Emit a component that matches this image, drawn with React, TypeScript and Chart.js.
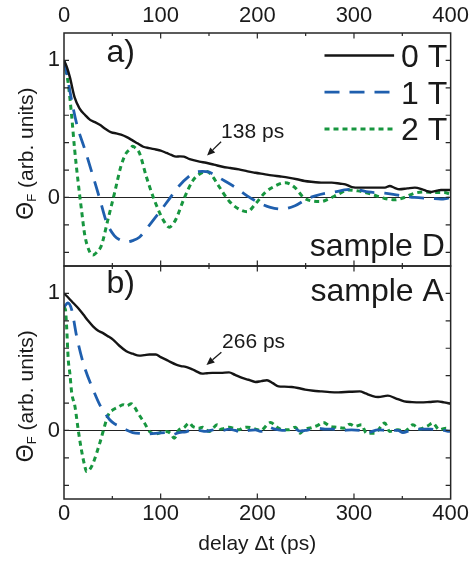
import React, { useEffect, useRef } from 'react';
import { Chart, registerables } from 'chart.js';

Chart.register(...registerables);

type P = [number, number];

const FONT = "'Liberation Sans', Arial, Helvetica, sans-serif";

// ---------- data ----------
const fieldLabels = ['0 T', '1 T', '2 T'];
const panelLabels = ['a)', 'b)'];
const sampleLabels = ['sample D', 'sample A'];
const lifetimeLabels = ['138 ps', '266 ps'];
const xTickPositions = [0, 50, 100, 150, 200, 250, 300, 350, 400];
const xTickValues = [0, 100, 200, 300, 400];
const yTickPositions = [-0.4, -0.2, 0, 0.2, 0.4, 0.6, 0.8, 1.0];
const yTickValues = [0, 1];

// sample D, panel a)
const sampleD_0T: P[] = [[0,1.0],[3,0.95],[6,0.88],[11,0.73],[16,0.65],[22,0.6],[27,0.566],[32,0.55],[37,0.53],[43,0.5],[49,0.475],[54,0.468],[59,0.458],[65,0.44],[70,0.42],[76,0.395],[82,0.37],[88,0.36],[95,0.35],[100,0.342],[106,0.325],[111,0.31],[116,0.298],[120,0.3],[124,0.298],[130,0.28],[140,0.262],[147,0.253],[155,0.24],[164,0.224],[172,0.215],[181,0.205],[190,0.19],[198,0.18],[207,0.17],[215,0.161],[224,0.153],[232,0.145],[241,0.133],[249,0.12],[258,0.113],[266,0.108],[277,0.108],[286,0.1],[291,0.096],[298,0.076],[306,0.072],[315,0.072],[323,0.072],[332,0.072],[337,0.084],[342,0.07],[347,0.06],[355,0.066],[363,0.072],[372,0.055],[380,0.04],[386,0.05],[390,0.055],[395,0.055],[400,0.055]];
const sampleD_1T: P[] = [[0,1.0],[3,0.9],[6,0.78],[13,0.54],[21.6,0.35],[30,0.156],[37,-0.01],[44,-0.18],[52,-0.278],[58,-0.31],[64.5,-0.325],[71,-0.315],[78,-0.29],[88,-0.205],[98.7,-0.108],[109,-0.01],[119,0.084],[129.6,0.156],[136,0.185],[143,0.19],[150,0.185],[157,0.16],[164,0.13],[177.6,0.072],[189.5,0.012],[201,-0.036],[213.5,-0.072],[225.5,-0.085],[239,-0.06],[251,-0.012],[260,0.012],[270,0.03],[280,0.04],[290,0.055],[297.5,0.06],[305,0.055],[314.6,0.04],[331.8,0.031],[345.5,0.017],[362.7,0.0],[380,-0.007],[390,-0.012],[395,-0.008],[400,0.0]];
const sampleD_2T: P[] = [[0,1.0],[2,0.93],[4.4,0.83],[8,0.59],[11,0.35],[14.7,0.108],[18,-0.085],[21.6,-0.278],[26.7,-0.398],[30,-0.42],[34,-0.4],[38.7,-0.35],[45.6,-0.157],[52.4,0.036],[59,0.23],[64,0.32],[67.9,0.35],[71,0.373],[74,0.36],[78,0.325],[85,0.156],[91.8,0.012],[98.7,-0.108],[104,-0.18],[109,-0.217],[112,-0.2],[115.9,-0.157],[124,-0.012],[133,0.12],[140,0.17],[148,0.19],[154,0.15],[160,0.084],[170.7,-0.025],[181,-0.085],[189.5,-0.104],[198,-0.048],[208,0.036],[218.5,0.084],[228.8,0.108],[239,0.072],[247.8,0.0],[256,-0.025],[266,-0.03],[273.5,-0.012],[284,0.024],[294,0.055],[304,0.048],[318,0.024],[331.8,-0.007],[342,-0.017],[352,0.0],[362.7,0.031],[373,0.04],[383,0.036],[393,0.036],[400,0.024]];

// sample A, panel b)
const sampleA_0T: P[] = [[0,1.0],[5,0.965],[9.6,0.93],[15,0.89],[20,0.846],[25,0.8],[30,0.76],[35,0.73],[40.4,0.71],[45,0.69],[50.7,0.663],[57,0.62],[64.5,0.578],[71,0.56],[78,0.546],[83,0.55],[88.4,0.554],[95,0.554],[100,0.535],[105.5,0.517],[110,0.5],[116,0.48],[121,0.47],[126,0.464],[131,0.452],[136,0.435],[143,0.415],[148,0.418],[153.5,0.42],[162,0.42],[170.7,0.424],[177,0.405],[184.4,0.383],[191,0.37],[198,0.354],[204,0.36],[210,0.366],[216,0.345],[222,0.322],[228,0.32],[235.7,0.317],[242,0.31],[249.5,0.298],[258,0.29],[266.6,0.285],[275,0.28],[284,0.278],[295,0.282],[306,0.285],[312,0.27],[318,0.254],[325,0.244],[335,0.254],[343,0.235],[352,0.212],[360,0.207],[369,0.205],[378,0.208],[386.6,0.212],[393,0.205],[400,0.195]];
const sampleA_1T: P[] = [[0,0.9],[4,0.93],[8,0.88],[13,0.69],[20,0.49],[30,0.3],[38.7,0.164],[43,0.12],[47.3,0.078],[52,0.05],[57.6,0.03],[64,0.005],[71,-0.015],[80,-0.022],[88.4,-0.024],[97,-0.02],[105.5,-0.015],[112.4,-0.03],[119,-0.015],[126,-0.01],[129.6,0],[133,0.005],[139.9,0],[146.7,-0.007],[155,0.005],[163.9,0],[170.7,0.01],[177,0.0],[184.4,-0.015],[191,0],[198,0.005],[203.3,-0.007],[211.8,0.024],[217,0.012],[222,0.005],[232.5,0],[239.3,0.01],[244,-0.005],[249.5,0],[255,0.008],[261.5,0.017],[270,0.01],[277,0.01],[287,0.0],[297.5,0.005],[306,0.0],[314.6,-0.015],[324.9,0.005],[335,0.0],[345.4,0],[350.6,-0.015],[358,0.0],[366,0.01],[379.7,0.01],[386,0.004],[393.4,0],[398.5,-0.007],[400,-0.005]];
const sampleA_2T: P[] = [[0,0.9],[1.5,0.88],[2.7,0.76],[4.4,0.517],[6,0.42],[8,0.273],[11.3,0.176],[14.7,0.005],[18,-0.141],[21.6,-0.263],[23.3,-0.3],[26,-0.29],[30,-0.24],[37,-0.092],[44,0.078],[47,0.13],[50.7,0.151],[56,0.17],[61,0.188],[65,0.18],[69.6,0.195],[73,0.17],[76.5,0.127],[83.3,0.054],[88.4,-0.007],[95,-0.024],[100,-0.015],[105.5,-0.007],[110,-0.02],[114,-0.056],[119,0.005],[124,0.02],[129.6,0.055],[133,0.03],[139.9,0.017],[143.3,0.024],[150.2,-0.007],[158.7,0.041],[162.2,0.01],[170.7,0.024],[181,0.005],[184.4,0.017],[189.6,0.024],[198.2,0.01],[203.3,0],[213.6,0.058],[220.4,0.024],[223.9,0.01],[232.4,0.005],[239.3,0.024],[244.4,-0.02],[247.9,0.005],[256,0.02],[262,0.035],[268.3,0.058],[275.2,0.03],[282,0.024],[288.9,0.017],[295.8,0.046],[300.9,0.03],[307.8,0.041],[312.9,-0.02],[321.5,-0.02],[331.8,0.054],[336.9,-0.007],[345.5,0.005],[352.3,-0.007],[360.9,0.041],[367.8,0.01],[376.3,0.034],[381.5,0.054],[388.3,0.005],[395.2,0.017],[400,0.005]];

// ---------- styles / annotation placement (in data units) ----------
const seriesColors = ['#151515', '#1f5fae', '#17963f'];
const seriesWidths = [2.4, 2.8, 3];
const seriesDashes: number[][] = [[], [15, 10], [5, 4]];
const INK = '#1a1a1a';

const annot = {
  panelLabel: [{ x: 44, y: 0.985 }, { x: 44, y: 1.004 }],
  sample: [{ x: 394, y: -0.43 }, { x: 393, y: 0.944 }],
  lifetime: [{ x: 162.5, y: 0.435 }, { x: 163.5, y: 0.605 }],
  arrowTail: [{ x: 162.5, y: 0.407 }, { x: 162.8, y: 0.571 }],
  arrowHead: [{ x: 148, y: 0.306 }, { x: 147.4, y: 0.478 }],
  yTitleCenter: [0.32, 0.25],
  legendLineX: [269.5, 341.5],
  legendTextX: 348.6,
  legendRowY: [1.036, 0.769, 0.5],
};

function near(a: number, b: number) {
  return Math.abs(a - b) < 1e-6;
}

const decorPlugin = {
  id: 'decor',
  beforeDatasetsDraw(chart: any) {
    const ctx = chart.ctx as CanvasRenderingContext2D;
    const { left, right } = chart.chartArea;
    ctx.save();
    ctx.strokeStyle = '#222';
    ctx.lineWidth = 1;
    for (const id of ['yA', 'yB']) {
      const s = chart.scales[id];
      const py = Math.round(s.getPixelForValue(0)) + 0.5;
      ctx.beginPath();
      ctx.moveTo(left, py);
      ctx.lineTo(right, py);
      ctx.stroke();
    }
    ctx.restore();
  },
  afterDraw(chart: any) {
    const ctx = chart.ctx as CanvasRenderingContext2D;
    const { left, right } = chart.chartArea;
    const xs = chart.scales.x;
    const panels = [chart.scales.yA, chart.scales.yB];
    ctx.save();
    // frames
    ctx.strokeStyle = '#262626';
    ctx.lineWidth = 1.5;
    for (const s of panels) ctx.strokeRect(left, s.top, right - left, s.bottom - s.top);
    // x ticks (inward)
    ctx.lineWidth = 1.2;
    for (const t of xs.ticks) {
      const px = xs.getPixelForValue(t.value);
      if (near(t.value, xs.min) || near(t.value, xs.max)) continue;
      const major = xTickValues.some((v) => near(v, t.value));
      const len = major ? 5.5 : 3;
      for (const s of panels) {
        ctx.beginPath();
        ctx.moveTo(px, s.top);
        ctx.lineTo(px, s.top + len);
        ctx.moveTo(px, s.bottom);
        ctx.lineTo(px, s.bottom - len);
        ctx.stroke();
      }
    }
    // y ticks (inward both sides)
    for (const s of panels) {
      for (const t of s.ticks) {
        if (near(t.value, s.min) || near(t.value, s.max)) continue;
        const py = s.getPixelForValue(t.value);
        ctx.beginPath();
        ctx.moveTo(left, py);
        ctx.lineTo(left + 5, py);
        ctx.moveTo(right, py);
        ctx.lineTo(right - 5, py);
        ctx.stroke();
      }
    }
    ctx.fillStyle = INK;
    ctx.textBaseline = 'alphabetic';
    const text = (s: string, x: number, y: number, size: number, align: CanvasTextAlign = 'left') => {
      ctx.font = `${size}px ${FONT}`;
      ctx.textAlign = align;
      ctx.fillText(s, x, y);
    };
    panels.forEach((s, i) => {
      const pl = annot.panelLabel[i];
      text(panelLabels[i], xs.getPixelForValue(pl.x), s.getPixelForValue(pl.y), 32);
      const sl = annot.sample[i];
      text(sampleLabels[i], xs.getPixelForValue(sl.x), s.getPixelForValue(sl.y), 32, 'right');
      const ll = annot.lifetime[i];
      text(lifetimeLabels[i], xs.getPixelForValue(ll.x), s.getPixelForValue(ll.y), 21);
      // arrow
      const tx = xs.getPixelForValue(annot.arrowTail[i].x);
      const ty = s.getPixelForValue(annot.arrowTail[i].y);
      const hx = xs.getPixelForValue(annot.arrowHead[i].x);
      const hy = s.getPixelForValue(annot.arrowHead[i].y);
      const ang = Math.atan2(hy - ty, hx - tx);
      const hl = 8, hw = 3.5;
      const bx = hx - hl * Math.cos(ang), by = hy - hl * Math.sin(ang);
      ctx.strokeStyle = INK;
      ctx.lineWidth = 1.3;
      ctx.beginPath();
      ctx.moveTo(tx, ty);
      ctx.lineTo(bx, by);
      ctx.stroke();
      ctx.beginPath();
      ctx.moveTo(hx, hy);
      ctx.lineTo(bx + hw * Math.sin(ang), by - hw * Math.cos(ang));
      ctx.lineTo(bx - hw * Math.sin(ang), by + hw * Math.cos(ang));
      ctx.closePath();
      ctx.fill();
      // y title
      const cy = s.getPixelForValue(annot.yTitleCenter[i]);
      ctx.save();
      ctx.translate(33, cy);
      ctx.rotate(-Math.PI / 2);
      ctx.textAlign = 'left';
      ctx.font = `23px ${FONT}`;
      const wT = ctx.measureText('Θ').width;
      ctx.font = `13px ${FONT}`;
      const wF = ctx.measureText('F').width;
      ctx.font = `21px ${FONT}`;
      const rest = ' (arb. units)';
      const wR = ctx.measureText(rest).width;
      const x0 = -(wT + wF + wR) / 2;
      ctx.font = `23px ${FONT}`;
      ctx.fillText('Θ', x0, 0);
      ctx.font = `13px ${FONT}`;
      ctx.fillText('F', x0 + wT, 3);
      ctx.font = `21px ${FONT}`;
      ctx.fillText(rest, x0 + wT + wF, 0);
      ctx.restore();
    });
    // legend (panel a)
    const sA = chart.scales.yA;
    chart.data.datasets.slice(0, 3).forEach((ds: any, i: number) => {
      const py = sA.getPixelForValue(annot.legendRowY[i]);
      ctx.save();
      ctx.strokeStyle = ds.borderColor;
      ctx.lineWidth = ds.borderWidth;
      ctx.setLineDash(ds.borderDash || []);
      ctx.beginPath();
      ctx.moveTo(xs.getPixelForValue(annot.legendLineX[0]), py);
      ctx.lineTo(xs.getPixelForValue(annot.legendLineX[1]), py);
      ctx.stroke();
      ctx.restore();
      text(ds.label, xs.getPixelForValue(annot.legendTextX), py + 11.5, 32);
    });
    ctx.restore();
  },
};

export default function App() {
  const ref = useRef<HTMLCanvasElement>(null);
  useEffect(() => {
    document.body.style.margin = '0';
    const canvas = ref.current!;
    const mk = (pts: P[], i: number, axis: string) => ({
      label: fieldLabels[i],
      data: pts.map(([x, y]) => ({ x, y })),
      xAxisID: 'x',
      yAxisID: axis,
      borderColor: seriesColors[i],
      borderWidth: seriesWidths[i],
      borderDash: seriesDashes[i],
      borderCapStyle: 'butt',
      borderJoinStyle: 'round',
      pointRadius: 0,
      fill: false,
      cubicInterpolationMode: 'monotone',
    });
    const datasets = [
      mk(sampleD_0T, 0, 'yA'),
      mk(sampleD_1T, 1, 'yA'),
      mk(sampleD_2T, 2, 'yA'),
      mk(sampleA_0T, 0, 'yB'),
      mk(sampleA_1T, 1, 'yB'),
      mk(sampleA_2T, 2, 'yB'),
    ];
    const xLabel = (v: any) => (xTickValues.some((t) => near(t, Number(v))) ? String(v) : '');
    const yLabel = (v: any) => {
      const n = Number(v);
      const hit = yTickValues.find((t) => near(t, n));
      return hit === undefined ? '' : String(hit);
    };
    const tickFont = { family: FONT, size: 22 };
    const setTicks = (vals: number[]) => (s: any) => {
      s.ticks = vals.map((v) => ({ value: v }));
    };
    const yScale = (weight: number) => ({
      type: 'linear',
      position: 'left',
      stack: 'panels',
      stackWeight: 1,
      weight,
      min: -0.5,
      max: 1.2,
      grid: { display: false, drawTicks: false },
      border: { display: false },
      ticks: { padding: 4, color: INK, font: tickFont, callback: yLabel, autoSkip: false },
      afterBuildTicks: setTicks(yTickPositions),
      afterFit: (s: any) => { s.width = 64; },
    });
    const chart = new Chart(canvas, {
      type: 'line',
      data: { datasets } as any,
      options: {
        responsive: false,
        animation: false,
        layout: { padding: { left: 0, right: 20, top: 0, bottom: 0 } },
        plugins: { legend: { display: false }, tooltip: { enabled: false } },
        scales: {
          x: {
            type: 'linear',
            position: 'bottom',
            min: 0,
            max: 400,
            grid: { display: false, drawTicks: false },
            border: { display: false },
            ticks: { padding: 2, color: INK, font: tickFont, callback: xLabel, autoSkip: false, maxRotation: 0 },
            afterBuildTicks: setTicks(xTickPositions),
            title: { display: true, text: 'delay Δt (ps)', color: INK, font: { family: FONT, size: 21 }, padding: { top: 0, bottom: 8 } },
            afterFit: (s: any) => { s.height = 66; },
          },
          x2: {
            type: 'linear',
            position: 'top',
            min: 0,
            max: 400,
            grid: { display: false, drawTicks: false },
            border: { display: false },
            ticks: { padding: 4, color: INK, font: tickFont, callback: xLabel, autoSkip: false, maxRotation: 0 },
            afterBuildTicks: setTicks(xTickPositions),
            afterFit: (s: any) => { s.height = 33; },
          },
          yA: yScale(2),
          yB: yScale(1),
        } as any,
      },
      plugins: [decorPlugin],
    } as any);
    return () => chart.destroy();
  }, []);
  return (
    <div style={{ width: 473, height: 565 }}>
      <canvas ref={ref} width={473} height={565} style={{ display: 'block', width: 473, height: 565 }} />
    </div>
  );
}
